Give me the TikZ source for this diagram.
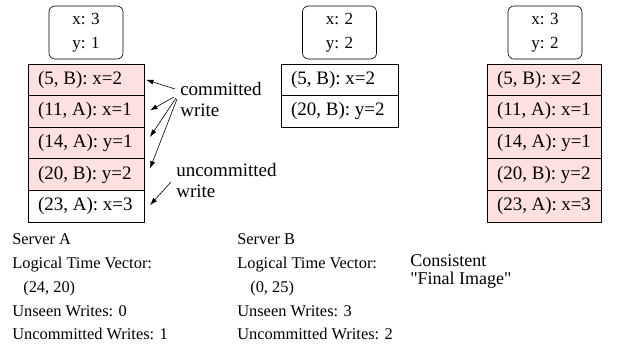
\documentclass[tikz,border=0pt]{standalone}
\usepackage{fontspec}
\setmainfont{Liberation Serif}
\usepackage{tikz}
\usetikzlibrary{arrows.meta,positioning}
\definecolor{commitpink}{RGB}{255,224,224}

\begin{document}
\begin{tikzpicture}[x=1pt, y=-1pt, node distance=0pt, line width=0.6pt, cell/.style={draw, outer sep=0pt, inner xsep=10pt, inner ysep=0pt, minimum height=31.6pt, text width=#1, align=flush left, font=\fontsize{19}{22}\selectfont}, done/.style={cell=#1, fill=commitpink}, state/.style={draw, rounded corners=6pt, minimum width=74pt, minimum height=53pt, inner sep=0pt, align=center, font=\fontsize{17}{23.5}\selectfont}, note/.style={anchor=north west, inner sep=0pt, align=flush left, font=\fontsize{19}{21}\selectfont}, info/.style={anchor=north west, inner sep=0pt, align=flush left, font=\fontsize{16.4}{23.7}\selectfont}, arr/.style={-{Latex[length=7.5pt,width=5pt]}}]
\useasboundingbox (0,0) rectangle (619,358);
% server A
\node[state] (sa) at (86,32.5) {x: 3\\y: 1};
\node[done=96pt] (a1) at (86,79.8) {(5, B): x=2};
\node[done=96pt,below=of a1] (a2) {(11, A): x=1};
\node[done=96pt,below=of a2] (a3) {(14, A): y=1};
\node[done=96pt,below=of a3] (a4) {(20, B): y=2};
\node[cell=96pt,below=of a4] (a5) {(23, A): x=3};
% server B
\node[state] (sb) at (339.5,32.5) {x: 2\\y: 2};
\node[cell=97pt] (b1) at (339.5,79.8) {(5, B): x=2};
\node[cell=97pt,below=of b1] (b2) {(20, B): y=2};
% final image
\node[state] (sc) at (545,32.5) {x: 3\\y: 2};
\node[done=94pt] (c1) at (544,79.8) {(5, B): x=2};
\node[done=94pt,below=of c1] (c2) {(11, A): x=1};
\node[done=94pt,below=of c2] (c3) {(14, A): y=1};
\node[done=94pt,below=of c3] (c4) {(20, B): y=2};
\node[done=94pt,below=of c4] (c5) {(23, A): x=3};
% write labels
\node[note] (cw) at (180,82) {committed\\write};
\node[note] (uw) at (176,163) {uncommitted\\write};
\coordinate (k1) at (175,89);
\coordinate (k2) at (174,97);
\coordinate (k3) at (176,98);
\coordinate (k4) at (177,99);
\coordinate (k5) at (171,182);
\draw[arr] (k1)--([xshift=2pt]a1.east);
\draw[arr] (k2)--([xshift=6pt,yshift=1pt]a2.east);
\draw[arr] (k3)--([xshift=6pt,yshift=6pt]a3.east);
\draw[arr] (k4)--([xshift=6pt,yshift=6pt]a4.east);
\draw[arr] (k5)--([xshift=6pt,yshift=1pt]a5.east);
% captions
\node[info] (ia) at (12,233.8) {Server A\\Logical Time Vector:\\\hspace*{11pt}(24, 20)\\Unseen Writes: 0\\Uncommitted Writes: 1};
\node[info] (ib) at (237,233.8) {Server B\\Logical Time Vector:\\\hspace*{13pt}(0, 25)\\Unseen Writes: 3\\Uncommitted Writes: 2};
\node[info,font=\fontsize{18}{18.5}\selectfont] (ic) at (410,254) {Consistent\\\textquotedbl Final Image\textquotedbl};
\end{tikzpicture}
\end{document}
